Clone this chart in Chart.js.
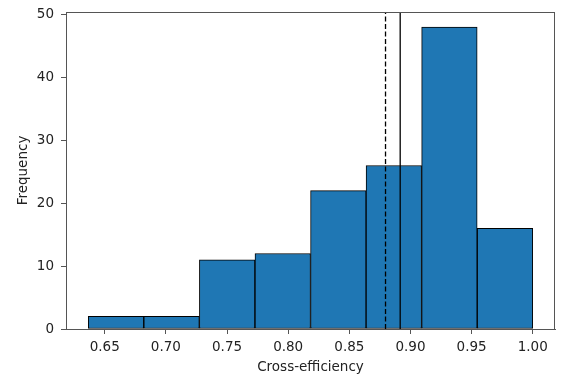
<!DOCTYPE html>
<html>
<head>
<meta charset="utf-8">
<script src="https://cdn.jsdelivr.net/npm/chart.js@4/dist/chart.umd.min.js"></script>
<style>
  html, body { margin: 0; padding: 0; background: #fff; }
  #wrap { width: 575px; height: 386px; }
</style>
</head>
<body>
<div id="wrap"><canvas id="hist" width="575" height="386"></canvas></div>
<script>
// histogram bins (edges) and counts
const binEdges = [0.6365, 0.6819, 0.7274, 0.7728, 0.8183, 0.8637, 0.9091, 0.9546, 1.0];
const counts = [2, 2, 11, 12, 22, 26, 48, 16];
const meanLine = 0.8796;    // dashed
const medianLine = 0.8916;  // solid
const xTicks = [0.65, 0.70, 0.75, 0.80, 0.85, 0.90, 0.95, 1.00];
const yTicks = [0, 10, 20, 30, 40, 50];
const xRange = [0.6183, 1.0182];
const yRange = [0, 50.4];

const FONT = "'DejaVu Sans', sans-serif";
const spine = '#555555';

const bars = counts.map((c, i) => ({ x: (binEdges[i] + binEdges[i + 1]) / 2, y: c }));

// draw the top and right spines too (matplotlib box)
const boxPlugin = {
    id: 'box',
    afterDatasetsDraw(chart) {
        const a = chart.chartArea;
        const c = chart.ctx;
        c.save();
        c.strokeStyle = spine;
        c.lineWidth = 1;
        c.strokeRect(a.left + 0.5, a.top + 0.5, a.right - a.left - 1, a.bottom - a.top);
        c.restore();
    }
};

new Chart(document.getElementById('hist'), {
    type: 'bar',
    data: {
        datasets: [
            {
                type: 'line',
                data: [{ x: meanLine, y: yRange[0] }, { x: meanLine, y: yRange[1] }],
                borderColor: '#000',
                borderWidth: 1.3,
                borderDash: [5, 2.5],
                pointRadius: 0,
                order: 0
            },
            {
                type: 'line',
                data: [{ x: medianLine, y: yRange[0] }, { x: medianLine, y: yRange[1] }],
                borderColor: '#000',
                borderWidth: 1.3,
                pointRadius: 0,
                order: 0
            },
            {
                type: 'bar',
                data: bars,
                backgroundColor: '#1f77b4',
                borderColor: '#000',
                borderWidth: 1,
                borderSkipped: false,
                barPercentage: 1,
                categoryPercentage: 1,
                order: 1
            }
        ]
    },
    options: {
        responsive: false,
        animation: false,
        layout: { padding: { top: 12, right: 20, left: 0, bottom: 0 } },
        plugins: { legend: { display: false }, tooltip: { enabled: false } },
        scales: {
            x: {
                type: 'linear',
                offset: false,
                min: xRange[0],
                max: xRange[1],
                afterFit(s) { s.height = 57; s.paddingLeft = 0; s.paddingRight = 0; },
                afterBuildTicks(s) { s.ticks = xTicks.map(v => ({ value: v })); },
                ticks: {
                    callback: v => v.toFixed(2),
                    color: '#222',
                    font: { family: FONT, size: 13.5 },
                    padding: 5,
                    maxRotation: 0,
                    autoSkip: false
                },
                grid: { offset: false, drawOnChartArea: false, drawTicks: true, tickLength: 5, color: spine },
                border: { color: spine, width: 1 },
                title: {
                    display: true,
                    text: 'Cross-efficiency',
                    color: '#222',
                    font: { family: FONT, size: 13.5 },
                    padding: { top: 0, bottom: 10 }
                }
            },
            y: {
                min: yRange[0],
                max: yRange[1],
                afterFit(s) { s.width = 66; s.paddingTop = 0; s.paddingBottom = 0; },
                afterBuildTicks(s) { s.ticks = yTicks.map(v => ({ value: v })); },
                ticks: {
                    color: '#222',
                    font: { family: FONT, size: 13.5 },
                    padding: 7
                },
                grid: { drawOnChartArea: false, drawTicks: true, tickLength: 5, color: spine },
                border: { color: spine, width: 1 },
                title: {
                    display: true,
                    text: 'Frequency',
                    color: '#222',
                    font: { family: FONT, size: 13.5 },
                    padding: { top: 15, bottom: 0 }
                }
            }
        }
    },
    plugins: [boxPlugin]
});
</script>
</body>
</html>
